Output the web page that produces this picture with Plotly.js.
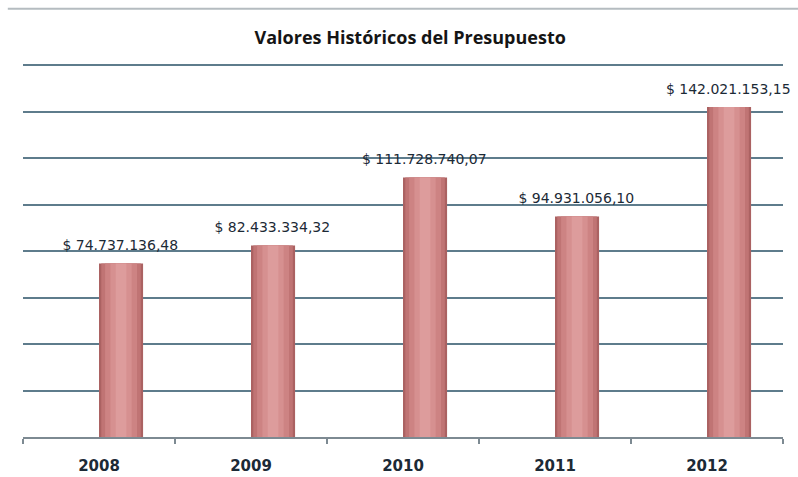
<!DOCTYPE html>
<html><head><meta charset="utf-8">
<script src="https://cdn.plot.ly/plotly-3.0.1.min.js"></script>
<style>html,body{margin:0;padding:0;background:#fff}#c{width:798px;height:477px}</style>
</head><body><div id="c"></div>
<script>
const years = ['2008', '2009', '2010', '2011', '2012'];
const values = [74737136.48, 82433334.32, 111728740.07, 94931056.10, 142021153.15];
const titleText = 'Valores Históricos del Presupuesto';

const centerShift = 0.145;
const layers = [
  {w: 0.29, c: '#ab6262'},
  {w: 0.26, c: '#c07474'},
  {w: 0.21, c: '#cd8383'},
  {w: 0.14, c: '#d69090'},
  {w: 0.07, c: '#dd9c9c'}
];
const traces = layers.map((L, i) => ({
  type: 'bar', x: years, y: values,
  width: L.w, offset: centerShift - L.w / 2,
  marker: {color: L.c, line: {width: 0}},
  hoverinfo: 'skip', showlegend: false,
  cliponaxis: false
}));
traces.push({
  type: 'scatter', mode: 'markers+text', x: years, y: values,
  marker: {size: 14, color: 'rgba(0,0,0,0)'},
  texttemplate: '$ %{y:,.2f}', textposition: 'top center',
  textfont: {family: 'DejaVu Sans, sans-serif', size: 14, color: '#1c2a36'},
  cliponaxis: false, showlegend: false, xaxis: 'x2', yaxis: 'y'
});

const layout = {
  width: 798, height: 477,
  margin: {l: 23, r: 15, t: 63, b: 40},
  paper_bgcolor: '#fff', plot_bgcolor: '#fff',
  separators: ',.',
  barmode: 'overlay',
  title: {text: '<b>' + titleText + '</b>', x: 0.514, xanchor: 'center', y: 0.922, yanchor: 'middle',
          font: {family: 'Open Sans, sans-serif', size: 18, color: '#151515'}},
  xaxis: {type: 'category', tickson: 'boundaries', ticks: 'outside', ticklen: 5,
          tickcolor: '#7d8a92', tickwidth: 2, showline: true, linecolor: '#7d8a92', linewidth: 2,
          showgrid: false, ticklabelstandoff: 14,
          tickfont: {family: 'DejaVu Sans, sans-serif', size: 15, color: '#1c2a36', weight: 'bold'}},
  xaxis2: {type: 'category', overlaying: 'x', range: [-0.64, 4.36], visible: false},
  yaxis: {range: [0, 161000000], tickvals: [20e6, 40e6, 60e6, 80e6, 100e6, 120e6, 140e6, 160e6],
          showticklabels: false, ticks: '',
          showgrid: true, gridcolor: '#5e7c8c', gridwidth: 2, zeroline: false, showline: false},
  shapes: [{type: 'line', xref: 'paper', yref: 'paper', x0: -0.02, x1: 1.02, y0: 1.145, y1: 1.145,
            line: {color: '#b5bcc0', width: 2}}]
};
Plotly.newPlot('c', traces, layout, {displayModeBar: false, staticPlot: true});
</script></body></html>
